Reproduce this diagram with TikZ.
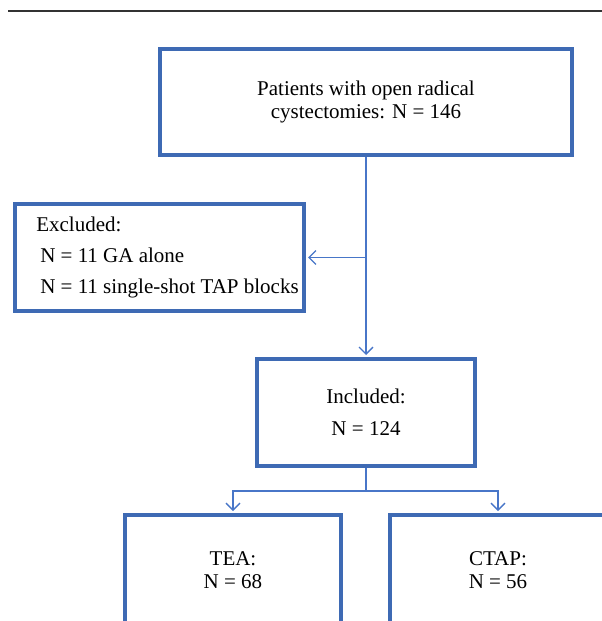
\documentclass[tikz,border=0pt]{standalone}
\usepackage{fontspec}
\setmainfont{Liberation Serif}
\usetikzlibrary{arrows.meta}
\definecolor{boxblue}{RGB}{62,106,180}
\definecolor{lineblue}{RGB}{72,118,200}

\begin{document}
\begin{tikzpicture}[x=1pt,y=-1pt,
	box/.style={draw=boxblue,line width=4pt,inner sep=0pt,align=center,font=\fontsize{21}{23}\selectfont},
	link/.style={draw=lineblue,line width=1.3pt},
	tip/.style={-{Straight Barb[length=7pt,width=14pt,line width=1.3pt]},shorten >=2pt}]
	\useasboundingbox (0,0) rectangle (602,621);
	\clip (0,0) rectangle (602,621);
	% rule at the top
	\draw[line width=1.5pt,black!80] (8,11) -- (602,11);
	% boxes
	\node[box,minimum width=412pt,minimum height=106pt] (pat) at (366,102) {Patients with open radical\\cystectomies: N = 146};
	\node[box,minimum width=289pt,minimum height=107pt,align=left] (excl) at (159.5,257.5)
		{\hspace*{16pt}Excluded:\\[8pt]\hspace*{20pt}N = 11 GA alone\\[8pt]\hspace*{20pt}N = 11 single-shot TAP blocks};
	\node[box,minimum width=218pt,minimum height=107pt] (incl) at (366,412.5) {Included:\\[9pt]N = 124};
	\node[box,minimum width=216pt,minimum height=110pt] (tea) at (233,570) {TEA:\\N = 68};
	\node[box,minimum width=216pt,minimum height=110pt] (ctap) at (498,570) {CTAP:\\N = 56};
	% connectors
	\draw[link,tip] (pat.south) -- (incl.north);
	\draw[link,tip] (pat.south |- excl.east) -- (excl.east);
	\coordinate (split) at (366,491);
	\draw[link] (incl.south) -- (split);
	\draw[link,tip] (split) -| (tea.north);
	\draw[link,tip] (split) -| (ctap.north);
\end{tikzpicture}
\end{document}
